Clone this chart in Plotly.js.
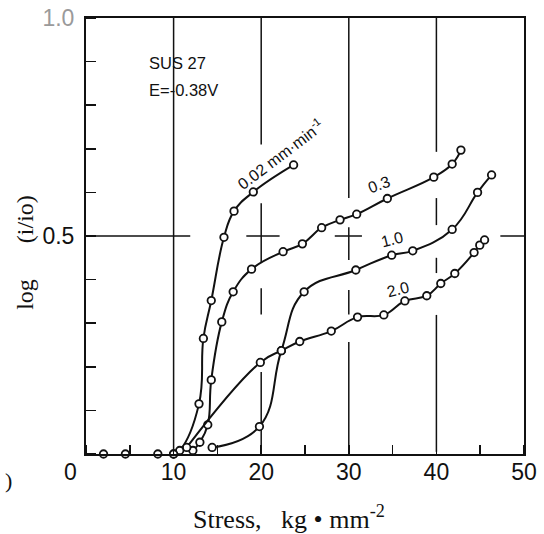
<!DOCTYPE html>
<html>
<head>
<meta charset="utf-8">
<script src="https://cdn.plot.ly/plotly-3.0.1.min.js"></script>
<style>
  html, body { margin: 0; padding: 0; background: #fff; }
  #chart { width: 544px; height: 534px; }
</style>
</head>
<body>
<div id="chart"></div>
<script>
// Current density vs. applied stress, SUS 27 at E = -0.38 V,
// one curve per strain rate (mm/min).

// Points lying on the zero line before any curve lifts off
const baseX = [2.0, 4.5, 8.2, 10.0];
const baseY = [0, 0, 0, 0];

// 0.02 mm/min
const x002 = [10.0, 10.7, 12.9, 13.4, 14.3, 15.75, 16.9, 19.1, 23.7];
const y002 = [0, 0.008, 0.115, 0.265, 0.352, 0.497, 0.557, 0.601, 0.663];

// 0.3 mm/min
const x03 = [12.2, 13.0, 13.9, 14.3, 15.5, 16.8, 18.9, 22.5, 24.7, 26.9, 29.0, 30.9, 34.4, 39.7, 41.8, 42.8];
const y03 = [0.008, 0.027, 0.067, 0.17, 0.303, 0.372, 0.424, 0.464, 0.482, 0.519, 0.537, 0.55, 0.586, 0.635, 0.665, 0.697];

// 1.0 mm/min
const x10 = [14.4, 19.8, 22.3, 24.9, 30.8, 34.9, 37.3, 41.8, 44.7, 46.3];
const y10 = [0.015, 0.063, 0.237, 0.372, 0.422, 0.456, 0.466, 0.515, 0.6, 0.64];

// 2.0 mm/min
const x20 = [11.5, 19.9, 22.3, 24.4, 28.0, 31.0, 34.0, 36.4, 38.9, 40.5, 42.1, 44.3, 44.95, 45.5];
const y20 = [0.015, 0.21, 0.237, 0.258, 0.282, 0.314, 0.319, 0.351, 0.363, 0.391, 0.414, 0.462, 0.479, 0.491];

// Axis ticks and labels
const xTickVals = [10, 20, 30, 40, 50];
const xTickText = ['10', '20', '30', '40', '50'];
const yTickVals = [0.5, 1.0];
const yTickText = ['0.5', '<span style="color:#9a9a9a">1.0</span>'];

// Curve labels: [text, x, y, angle]
const curveLabels = [
  ['0.02 mm·min<sup>-1</sup>', 22.2, 0.687, -37],
  ['0.3', 33.5, 0.617, -20],
  ['1.0', 34.9, 0.492, -14],
  ['2.0', 35.6, 0.377, -14]
];

// Broken reference grid: [x0, y0, x1, y1]
const gridSegs = [
  [10, 0, 10, 1.0],
  [20, 0.71, 20, 1.0], [20, 0.44, 20, 0.575], [18.3, 0.5, 22.1, 0.5],
  [20, 0.32, 20, 0.38], [20, 0.016, 20, 0.188],
  [30, 0.587, 30, 1.0], [30, 0.445, 30, 0.52], [28.4, 0.5, 31.5, 0.5],
  [30, 0.32, 30, 0.376], [30, 0.005, 30, 0.257],
  [40, 0.693, 40, 1.0], [40, 0.525, 40, 0.587], [40, 0.415, 40, 0.45], [40, 0.005, 40, 0.319],
  [0, 0.5, 11.9, 0.5], [47.3, 0.5, 50, 0.5]
];

const ink = '#111';

function curve(x, y) {
  return {
    x: x, y: y, type: 'scatter', mode: 'lines+markers',
    line: { color: ink, width: 2, shape: 'spline', smoothing: 1.25 },
    marker: { symbol: 'circle', size: 7.5, color: '#fff', line: { color: ink, width: 1.8 } },
    hoverinfo: 'x+y', showlegend: false, cliponaxis: false
  };
}

const traces = [
  curve(x002, y002),
  curve(x03, y03),
  curve(x10, y10),
  curve(x20, y20),
  {
    x: baseX, y: baseY, type: 'scatter', mode: 'markers',
    marker: { symbol: 'circle', size: 7.5, color: '#fff', line: { color: ink, width: 1.8 } },
    showlegend: false, cliponaxis: false
  }
];

const shapes = gridSegs.map(s => ({
  type: 'line', xref: 'x', yref: 'y',
  x0: s[0], y0: s[1], x1: s[2], y1: s[3],
  line: { color: ink, width: 1.5 }, layer: 'below'
}));

const sans = 'Liberation Sans, Arial, sans-serif';
const serif = 'Liberation Serif, Times New Roman, serif';

const annotations = curveLabels.map(c => ({
  text: c[0], x: c[1], y: c[2], xref: 'x', yref: 'y',
  xanchor: 'center', yanchor: 'middle',
  textangle: c[3], showarrow: false,
  font: { family: sans, size: 16, color: ink }
}));

annotations.push(
  { text: 'SUS 27', x: 7.0, y: 0.896, xref: 'x', yref: 'y', xanchor: 'left', yanchor: 'middle',
    showarrow: false, font: { family: sans, size: 16.5, color: ink } },
  { text: 'E=-0.38V', x: 7.0, y: 0.834, xref: 'x', yref: 'y', xanchor: 'left', yanchor: 'middle',
    showarrow: false, font: { family: sans, size: 16.5, color: ink } },
  // shared origin label
  { text: '0', x: -0.0365, y: -0.041, xref: 'paper', yref: 'paper', xanchor: 'center', yanchor: 'middle',
    showarrow: false, font: { family: sans, size: 23, color: ink } },
  { text: 'Stress,\u2002 kg • mm<sup>-2</sup>', x: 0.463, y: -0.1445, xref: 'paper', yref: 'paper',
    xanchor: 'center', yanchor: 'middle',
    showarrow: false, font: { family: serif, size: 26, color: ink } },
  { text: 'log\u2003\u2002(i/io)', x: -0.14, y: 0.463, xref: 'paper', yref: 'paper', textangle: -90,
    xanchor: 'center', yanchor: 'middle',
    showarrow: false, font: { family: serif, size: 24, color: ink } },
  { text: ')', x: -0.19, y: -0.06, xref: 'paper', yref: 'paper', xanchor: 'left', yanchor: 'middle',
    showarrow: false, font: { family: serif, size: 22, color: ink } }
);

const layout = {
  width: 544, height: 534,
  margin: { l: 86, r: 20, t: 18, b: 80 },
  paper_bgcolor: '#fff', plot_bgcolor: '#fff',
  showlegend: false,
  xaxis: {
    range: [0, 50], showgrid: false, zeroline: false,
    showline: true, linecolor: ink, linewidth: 2, mirror: true,
    tickvals: xTickVals, ticktext: xTickText, ticks: '',
    ticklabelstandoff: -4,
    tickfont: { family: sans, size: 23, color: ink },
    minor: { dtick: 5, tick0: 0, ticks: 'inside', ticklen: 9, tickcolor: ink, tickwidth: 1.5, showgrid: false }
  },
  yaxis: {
    range: [0, 1.0], showgrid: false, zeroline: false,
    showline: true, linecolor: ink, linewidth: 2, mirror: true,
    tickvals: yTickVals, ticktext: yTickText, ticks: '',
    ticklabelstandoff: 5,
    tickfont: { family: sans, size: 23, color: ink },
    minor: { dtick: 0.1, tick0: 0, ticks: 'inside', ticklen: 10, tickcolor: ink, tickwidth: 1.5, showgrid: false }
  },
  shapes: shapes,
  annotations: annotations
};

Plotly.newPlot('chart', traces, layout, { displayModeBar: false, staticPlot: true });
</script>
</body>
</html>
